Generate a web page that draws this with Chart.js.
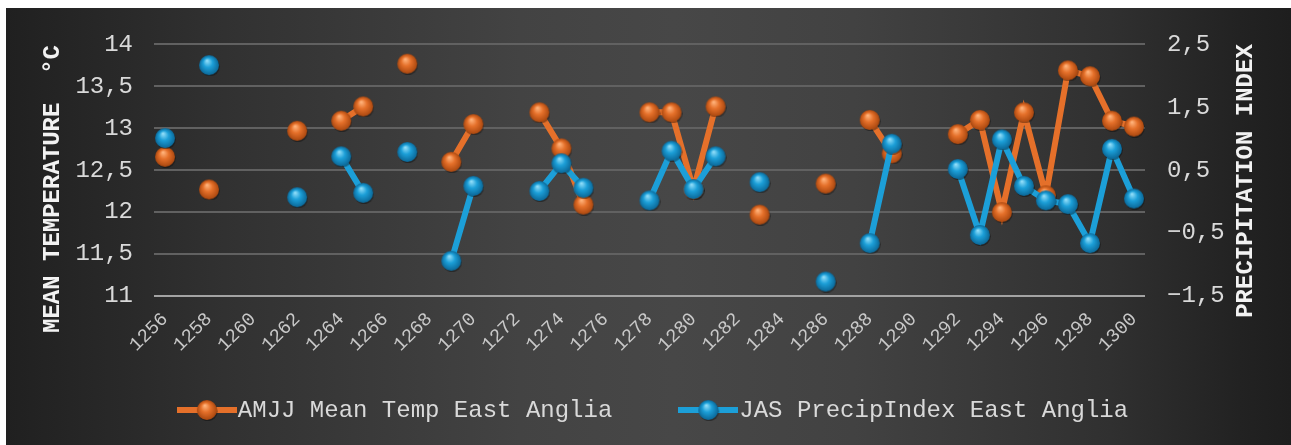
<!DOCTYPE html>
<html>
<head>
<meta charset="utf-8">
<script src="https://cdn.jsdelivr.net/npm/chart.js@4.4.1/dist/chart.umd.min.js"></script>
<style>
  html, body { margin: 0; padding: 0; background: #ffffff; }
  #wrap {
    position: absolute; left: 6px; top: 8px; width: 1285px; height: 437px;
    background: linear-gradient(to right, #202020 0%, #262626 6%, #323232 18%, #434343 40%, #474747 52%, #424242 66%, #303030 86%, #222222 96%, #1e1e1e 100%);
  }
  #c { display: block; }
</style>
</head>
<body>
<div id="wrap"><canvas id="c" width="1285" height="437"></canvas></div>
<script>
// ---- data ----
const years = [1256,1257,1258,1259,1260,1261,1262,1263,1264,1265,1266,1267,1268,1269,1270,1271,1272,1273,1274,1275,1276,1277,1278,1279,1280,1281,1282,1283,1284,1285,1286,1287,1288,1289,1290,1291,1292,1293,1294,1295,1296,1297,1298,1299,1300];
const tempAMJJ = [12.66,null,12.27,null,null,null,12.97,null,13.09,13.26,null,13.77,null,12.60,13.05,null,null,13.19,12.76,12.09,null,null,13.19,13.19,12.27,13.26,null,11.97,null,null,12.34,null,13.10,12.70,null,null,12.93,13.10,12.00,13.19,12.20,13.69,13.62,13.09,13.02];
const precipJAS = [1.01,null,2.17,null,null,null,0.07,null,0.72,0.14,null,0.79,null,-0.94,0.25,null,null,0.17,0.61,0.22,null,null,0.02,0.81,0.20,0.72,null,0.31,null,null,-1.27,null,-0.66,0.92,null,null,0.52,-0.53,0.99,0.25,0.02,-0.04,-0.66,0.84,0.05];
const seriesNames = ['AMJJ Mean Temp East Anglia', 'JAS PrecipIndex East Anglia'];
const leftTitle = 'MEAN TEMPERATURE  °C';
const rightTitle = 'PRECIPITATION INDEX';

const ORANGE = '#E5702A', BLUE = '#1C9FD8';
const FONT = "'Liberation Mono', 'Courier New', monospace";

function sphere(base, light, dark, d) {
  const c = document.createElement('canvas');
  c.width = d + 2; c.height = d + 2;
  const g = c.getContext('2d');
  const r = d / 2, cx = c.width / 2, cy = c.height / 2;
  // soft shadow
  g.beginPath(); g.arc(cx + 0.8, cy + 1.2, r, 0, Math.PI * 2);
  g.fillStyle = 'rgba(0,0,0,0.35)'; g.fill();
  const grad = g.createRadialGradient(cx - r * 0.2, cy - r * 0.45, r * 0.05, cx, cy, r);
  grad.addColorStop(0, light);
  grad.addColorStop(0.45, base);
  grad.addColorStop(1, dark);
  g.beginPath(); g.arc(cx, cy, r, 0, Math.PI * 2);
  g.fillStyle = grad; g.fill();
  return c;
}
function legendIcon(col, sph) {
  const c = document.createElement('canvas');
  c.width = 60; c.height = 24;
  const g = c.getContext('2d');
  g.strokeStyle = col; g.lineWidth = 6; g.lineCap = 'butt';
  g.beginPath(); g.moveTo(0, 12); g.lineTo(60, 12); g.stroke();
  g.drawImage(sph, 30 - sph.width / 2, 12 - sph.height / 2);
  return c;
}
const sphO = sphere(ORANGE, '#FFB27A', '#A9470F', 20);
const sphB = sphere(BLUE, '#8EDCF8', '#0B6797', 20);
const icons = [legendIcon(ORANGE, sphO), legendIcon(BLUE, sphB)];

const fmt = v => String(v).replace('.', ',').replace('-', '\u2212');

const customDecor = {
  id: 'customDecor',
  afterDraw(chart) {
    const ctx = chart.ctx;
    ctx.save();
    // axis titles
    ctx.fillStyle = '#f2f2f2';
    ctx.font = 'bold 24px ' + FONT;
    ctx.textAlign = 'center'; ctx.textBaseline = 'middle';
    ctx.save(); ctx.translate(47, 181); ctx.rotate(-Math.PI / 2); ctx.fillText(leftTitle, 0, 0); ctx.restore();
    ctx.save(); ctx.translate(1240, 173); ctx.rotate(-Math.PI / 2); ctx.fillText(rightTitle, 0, 0); ctx.restore();
    // legend
    ctx.font = '24px ' + FONT;
    ctx.fillStyle = '#d9d9d9';
    ctx.textAlign = 'left';
    const gap = 66, iconW = 60;
    const widths = seriesNames.map(s => iconW + 1 + ctx.measureText(s).width);
    const total = widths[0] + gap + widths[1];
    let x = chart.width / 2 + 4 - total / 2;
    const y = 402;
    for (let i = 0; i < 2; i++) {
      ctx.drawImage(icons[i], x, y - 12);
      ctx.fillText(seriesNames[i], x + iconW + 1, y + 1);
      x += widths[i] + gap;
    }
    ctx.restore();
  }
};

new Chart(document.getElementById('c'), {
  type: 'line',
  data: {
    labels: years,
    datasets: [
      { label: seriesNames[0], data: tempAMJJ, yAxisID: 'y', order: 1,
        borderColor: ORANGE, borderWidth: 6, pointStyle: sphO, pointRadius: 10, spanGaps: false },
      { label: seriesNames[1], data: precipJAS, yAxisID: 'y2', order: 0,
        borderColor: BLUE, borderWidth: 6, pointStyle: sphB, pointRadius: 10, spanGaps: false }
    ]
  },
  options: {
    responsive: false,
    animation: false,
    events: [],
    layout: { padding: { top: 30, bottom: 69, left: 0, right: 0 } },
    plugins: { legend: { display: false }, tooltip: { enabled: false } },
    scales: {
      x: {
        type: 'category', offset: true,
        grid: { display: false }, border: { display: false },
        ticks: {
          autoSkip: false, maxRotation: 45, minRotation: 45, padding: 4,
          color: '#c8c8c8', font: { family: FONT, size: 19 },
          callback: function (v, i) { return (years[i] % 2 === 0) ? String(years[i]) : ''; }
        },
        afterFit: s => { s.height = 80; }
      },
      y: {
        position: 'left', min: 11, max: 14,
        border: { display: false },
        grid: { drawTicks: false, lineWidth: 2,
          color: c => (c.tick && c.tick.value === 11) ? '#a3a3a3' : '#616161' },
        ticks: { stepSize: 0.5, padding: 21, color: '#d9d9d9', font: { family: FONT, size: 24 },
          callback: v => fmt(v) },
        afterFit: s => { s.width = 148; }
      },
      y2: {
        position: 'right', min: -1.5, max: 2.5,
        border: { display: false },
        grid: { display: false, drawTicks: false },
        ticks: { stepSize: 0.5, padding: 22, color: '#d9d9d9', font: { family: FONT, size: 24 },
          callback: v => fmt(v) },
        afterFit: s => { s.width = 146; }
      }
    }
  },
  plugins: [customDecor]
});
</script>
</body>
</html>
